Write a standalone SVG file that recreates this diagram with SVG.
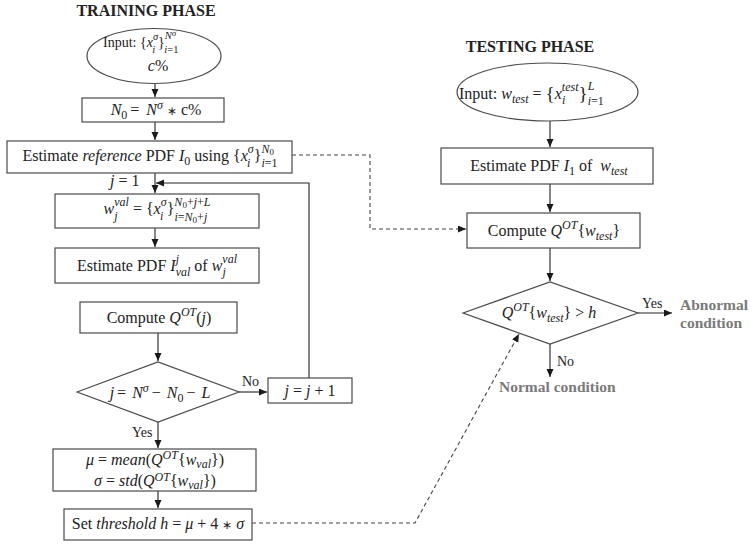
<svg xmlns="http://www.w3.org/2000/svg" width="753" height="545" viewBox="0 0 753 545">
  <style>
    text { font-family: "Liberation Serif", "Times New Roman", serif; font-size: 16px; fill: #222; }
    .i { font-style: italic; }
    .s { font-size: 12px; }
    .sl { font-size: 10.5px; }
    .xs { font-size: 9px; }
    .op { font-size: 12px; }
    .br { font-size: 19px; }
    .sm { font-size: 14px; }
    .title { font-weight: bold; font-size: 16px; }
    .out { font-weight: bold; font-size: 15.5px; fill: #7a7a7a; }
    .box { fill: #fff; stroke: #4a4a4a; stroke-width: 1.2; }
    .wire { fill: none; stroke: #222; stroke-width: 1.1; }
    .dash { fill: none; stroke: #444; stroke-width: 1.1; stroke-dasharray: 4 3; }
  </style>
  <defs>
    <marker id="arrow" markerUnits="userSpaceOnUse" markerWidth="9" markerHeight="8" refX="8" refY="3.5" orient="auto">
      <path d="M0,0 L8,3.5 L0,7 z" fill="#1a1a1a"/>
    </marker>
  </defs>

  <rect width="753" height="545" fill="#fff"/>

  <!-- phase headings -->
  <text class="title" x="146" y="16" text-anchor="middle">TRAINING PHASE</text>
  <text class="title" x="530" y="52" text-anchor="middle">TESTING PHASE</text>

  <!-- connectors -->
  <g id="connectors">
    <path class="wire" d="M155,83 V97" marker-end="url(#arrow)"/>
    <path class="wire" d="M155,122 V140" marker-end="url(#arrow)"/>
    <path class="wire" d="M155,173 V193" marker-end="url(#arrow)"/>
    <path class="wire" d="M309,378 V183 H156" marker-end="url(#arrow)"/>
    <path class="wire" d="M155,228 V247" marker-end="url(#arrow)"/>
    <path class="wire" d="M158,333 V361" marker-end="url(#arrow)"/>
    <path class="wire" d="M239,392 H267" marker-end="url(#arrow)"/>
    <path class="wire" d="M158,422 V448" marker-end="url(#arrow)"/>
    <path class="wire" d="M158,491 V508" marker-end="url(#arrow)"/>
    <path class="wire" d="M550,121 V147" marker-end="url(#arrow)"/>
    <path class="wire" d="M550,184 V212" marker-end="url(#arrow)"/>
    <path class="wire" d="M550,248 V281" marker-end="url(#arrow)"/>
    <path class="wire" d="M638,313 H672" marker-end="url(#arrow)"/>
    <path class="wire" d="M550,344 V377" marker-end="url(#arrow)"/>
    <path class="dash" d="M292,155 H370 V229 H466" marker-end="url(#arrow)"/>
    <path class="dash" d="M252,523 H415 L519,334" marker-end="url(#arrow)"/>
    <text class="sm" x="242" y="386">No</text>
    <text class="sm" x="132" y="437">Yes</text>
    <text class="sm" x="642" y="308">Yes</text>
    <text class="sm" x="557" y="366">No</text>
  </g>

  <!-- training: input -->
  <g id="train-input">
    <ellipse cx="154" cy="56" rx="67" ry="27.5" fill="#fff" stroke="#4a4a4a" stroke-width="1.2"/>
    <text class="sm" x="103" y="47">Input: {<tspan class="i">x</tspan><tspan class="sl i" dy="-7">σ</tspan><tspan class="sl i" dx="-5.8" dy="13">i</tspan><tspan dx="2.9" dy="-6">}</tspan><tspan class="sl i" dy="-8">N</tspan><tspan class="xs i" dy="-3">σ</tspan><tspan class="sl" dx="-12" dy="17"><tspan class="i">i</tspan>=1</tspan></text>
    <text x="158" y="71" text-anchor="middle"><tspan class="i">c</tspan>%</text>
  </g>

  <g id="train-n0">
    <rect class="box" x="82" y="98" width="142" height="24"/>
    <text x="156" y="115" text-anchor="middle"><tspan class="i">N</tspan><tspan class="s" dy="4">0</tspan><tspan dy="-4" dx="3">=</tspan> <tspan class="i" dx="3">N</tspan><tspan class="s i" dy="-6">σ</tspan><tspan class="op" dy="6" dx="4">∗</tspan> c%</text>
  </g>

  <g id="train-reference">
    <rect class="box" x="7" y="141" width="285" height="32"/>
    <text x="150" y="161" text-anchor="middle">Estimate <tspan class="i">reference</tspan> PDF <tspan class="i">I</tspan><tspan class="s" dy="4">0</tspan><tspan dy="-4"> using {</tspan><tspan class="i">x</tspan><tspan class="s i" dy="-8">σ</tspan><tspan class="s i" dx="-6.6" dy="14">i</tspan><tspan dx="3.3" dy="-6">}</tspan><tspan class="s i" dy="-8">N</tspan><tspan class="xs" dy="2">0</tspan><tspan class="s" dx="-12.5" dy="12"><tspan class="i">i</tspan>=1</tspan></text>
    <text x="110" y="186"><tspan class="i">j</tspan> = 1</text>
  </g>

  <g id="train-window">
    <rect class="box" x="55" y="194" width="204" height="34"/>
    <text x="157" y="214" text-anchor="middle"><tspan class="i">w</tspan><tspan class="s i" dy="-8">val</tspan><tspan class="s i" dx="-14.6" dy="14">j</tspan><tspan dx="11.3" dy="-6"> = {</tspan><tspan class="i">x</tspan><tspan class="s i" dy="-8">σ</tspan><tspan class="s i" dx="-6.6" dy="14">i</tspan><tspan dx="3.3" dy="-6">}</tspan><tspan class="s i" dy="-8">N</tspan><tspan class="xs" dy="2">0</tspan><tspan class="s" dy="-2">+<tspan class="i">j</tspan>+<tspan class="i">L</tspan></tspan><tspan class="s i" dx="-36" dy="15">i</tspan><tspan class="s">=<tspan class="i">N</tspan></tspan><tspan class="xs" dy="2">0</tspan><tspan class="s" dy="-2">+<tspan class="i">j</tspan></tspan></text>
  </g>

  <g id="train-pdf">
    <rect class="box" x="55" y="248" width="204" height="35"/>
    <text x="157" y="271" text-anchor="middle">Estimate PDF <tspan class="i">I</tspan><tspan class="s i" dy="-8">j</tspan><tspan class="s i" dx="-3.3" dy="13">val</tspan><tspan dy="-5"> of </tspan><tspan class="i">w</tspan><tspan class="s i" dy="-8">val</tspan><tspan class="s i" dx="-14.6" dy="13">j</tspan></text>
  </g>

  <g id="train-compute">
    <rect class="box" x="80" y="302" width="157" height="31"/>
    <text x="159" y="323" text-anchor="middle">Compute <tspan class="i">Q</tspan><tspan class="s i" dy="-7">OT</tspan><tspan dy="7">(</tspan><tspan class="i">j</tspan>)</text>
  </g>

  <g id="train-decision">
    <polygon points="77,392 158,362 239,392 158,422" fill="#fff" stroke="#4a4a4a" stroke-width="1.2"/>
    <text x="160" y="398" text-anchor="middle"><tspan class="i">j</tspan><tspan dx="3">=</tspan> <tspan class="i" dx="2">N</tspan><tspan class="s i" dy="-6">σ</tspan><tspan dy="6" dx="3">−</tspan> <tspan class="i" dx="2">N</tspan><tspan class="s" dy="4">0</tspan><tspan dy="-4" dx="3">−</tspan> <tspan class="i" dx="2">L</tspan></text>
  </g>

  <g id="train-increment">
    <rect class="box" x="268" y="378" width="84" height="25"/>
    <text x="310" y="396" text-anchor="middle"><tspan class="i">j</tspan> = <tspan class="i">j</tspan> + 1</text>
  </g>

  <g id="train-stats">
    <rect class="box" x="53" y="449" width="203" height="42"/>
    <text x="155" y="465" text-anchor="middle"><tspan class="i">μ</tspan> = <tspan class="i">mean</tspan>(<tspan class="i">Q</tspan><tspan class="s i" dy="-6">OT</tspan><tspan dy="6">{</tspan><tspan class="i">w</tspan><tspan class="s i" dy="3">val</tspan><tspan dy="-3">})</tspan></text>
    <text x="155" y="486" text-anchor="middle"><tspan class="i">σ</tspan> = <tspan class="i">std</tspan>(<tspan class="i">Q</tspan><tspan class="s i" dy="-5">OT</tspan><tspan dy="5">{</tspan><tspan class="i">w</tspan><tspan class="s i" dy="3">val</tspan><tspan dy="-3">})</tspan></text>
  </g>

  <g id="train-threshold">
    <rect class="box" x="64" y="509" width="188" height="31"/>
    <text x="158" y="529" text-anchor="middle">Set <tspan class="i">threshold h</tspan> = <tspan class="i">μ</tspan> + 4 <tspan class="op">∗</tspan> <tspan class="i">σ</tspan></text>
  </g>

  <!-- testing column -->
  <g id="test-input">
    <ellipse cx="547.5" cy="92" rx="90.5" ry="29" fill="#fff" stroke="#4a4a4a" stroke-width="1.2"/>
    <text x="459" y="99">Input: <tspan class="i">w</tspan><tspan class="s i" dy="4">test</tspan><tspan dy="-4"> = </tspan><tspan class="br" dy="1">{</tspan><tspan class="i" dy="-1">x</tspan><tspan class="s i" dy="-8">test</tspan><tspan class="s i" dx="-16.6" dy="13">i</tspan><tspan class="br" dx="13.3" dy="-4">}</tspan><tspan class="s i" dy="-10">L</tspan><tspan class="s" dx="-6.7" dy="15"><tspan class="i">i</tspan>=1</tspan></text>
  </g>

  <g id="test-pdf">
    <rect class="box" x="441" y="148" width="212" height="36"/>
    <text x="549" y="171" text-anchor="middle">Estimate PDF <tspan class="i">I</tspan><tspan class="s" dy="4">1</tspan><tspan dy="-4"> of  </tspan><tspan class="i" dx="4">w</tspan><tspan class="s i" dy="4">test</tspan></text>
  </g>

  <g id="test-compute">
    <rect class="box" x="467" y="213" width="173" height="35"/>
    <text x="554" y="236" text-anchor="middle">Compute <tspan class="i">Q</tspan><tspan class="s i" dy="-7">OT</tspan><tspan dy="7">{</tspan><tspan class="i">w</tspan><tspan class="s i" dy="4">test</tspan><tspan dy="-4">}</tspan></text>
  </g>

  <g id="test-decision">
    <polygon points="463,313 550,282 638,313 550,344" fill="#fff" stroke="#4a4a4a" stroke-width="1.2"/>
    <text x="549" y="318" text-anchor="middle"><tspan class="i">Q</tspan><tspan class="s i" dy="-7">OT</tspan><tspan dy="7">{</tspan><tspan class="i">w</tspan><tspan class="s i" dy="4">test</tspan><tspan dy="-4">} &gt; </tspan><tspan class="i">h</tspan></text>
  </g>

  <g id="test-abnormal">
    <text class="out" x="680" y="310">Abnormal</text>
    <text class="out" x="680" y="328">condition</text>
  </g>

  <g id="test-normal">
    <text class="out" x="499" y="392">Normal condition</text>
  </g>
</svg>
